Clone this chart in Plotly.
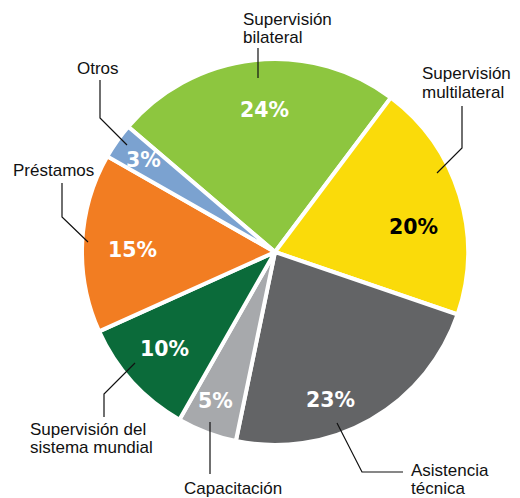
import math
import plotly.graph_objects as go

# Distribución por tipo de actividad (%)
categorias = [
    "Supervisión bilateral",
    "Supervisión multilateral",
    "Asistencia técnica",
    "Capacitación",
    "Supervisión del sistema mundial",
    "Préstamos",
    "Otros",
]
valores = [24, 20, 23, 5, 10, 15, 3]

colores = ["#8DC63F", "#FADB0A", "#636466", "#A7A9AC", "#0B6B3A", "#F27D22", "#7BA2D0"]
color_pct = ["white", "black", "white", "white", "white", "white", "white"]

W, H = 520, 498
CX, CY, R = 275, 252, 193          # centre and radius of the pie in pixels
ROTACION = -49.5                   # start of first slice, degrees clockwise from 12 o'clock

# radial position (fraction of radius) of each percentage label
radio_pct = [0.74, 0.73, 0.82, 0.83, 0.76, 0.74, 0.83]
desvio_pct = [2, 7, 9, 1, 1, -2, 0]   # angular nudge (deg)

# category labels: lines of text, x, first-line y, anchor
etiquetas = {
    "Supervisión bilateral": (["Supervisión", "bilateral"], 241, 19, "left"),
    "Supervisión multilateral": (["Supervisión", "multilateral"], 420, 74, "left"),
    "Asistencia técnica": (["Asistencia", "técnica"], 409, 470, "left"),
    "Capacitación": (["Capacitación"], 233, 488, "center"),
    "Supervisión del sistema mundial": (["Supervisión del", "sistema mundial"], 28, 429, "left"),
    "Préstamos": (["Préstamos"], 53, 170, "center"),
    "Otros": (["Otros"], 98, 68, "center"),
}
# leader lines (pixel polylines, label end first)
guias = {
    "Supervisión bilateral": [(258, 48), (258, 78)],
    "Supervisión multilateral": [(462, 106), (462, 148), (437, 173)],
    "Asistencia técnica": [(403, 472), (362, 472), (337, 423)],
    "Capacitación": [(210, 474), (210, 422)],
    "Supervisión del sistema mundial": [(104, 417), (104, 394), (135, 363)],
    "Préstamos": [(62, 183), (62, 217), (88, 242)],
    "Otros": [(100, 80), (100, 118), (127, 145)],
}
LINEA = 18.5


def px(x):
    return x / W


def py(y):
    return (H - y) / H


fig = go.Figure(
    go.Pie(
        labels=categorias,
        values=valores,
        sort=False,
        direction="clockwise",
        rotation=ROTACION,
        marker=dict(colors=colores, line=dict(color="white", width=4)),
        textinfo="none",
        hoverinfo="label+percent",
        showlegend=False,
        domain=dict(x=[px(CX - R), px(CX + R)], y=[py(CY + R), py(CY - R)]),
    )
)

anotaciones = []
total = sum(valores)
acum = 0.0
for i, (cat, v) in enumerate(zip(categorias, valores)):
    medio = ROTACION + (acum + v / 2) / total * 360 + desvio_pct[i]
    acum += v
    a = math.radians(medio)
    r = radio_pct[i] * R
    x = CX + r * math.sin(a)
    y = CY - r * math.cos(a)
    anotaciones.append(dict(
        x=px(x), y=py(y), xref="paper", yref="paper",
        text=f"{v}%", showarrow=False,
        font=dict(family="DejaVu Sans", size=20.5, color=color_pct[i], weight="bold"),
        xanchor="center", yanchor="middle",
    ))

for cat in categorias:
    lineas, x0, y0, anc = etiquetas[cat]
    for k, t in enumerate(lineas):
        anotaciones.append(dict(
            x=px(x0), y=py(y0 + k * LINEA), xref="paper", yref="paper",
            text=t, showarrow=False,
            font=dict(family="Liberation Sans, Arial", size=17, color="#111111"),
            xanchor=anc, yanchor="middle",
        ))

formas = []
for cat in categorias:
    pts = guias[cat]
    path = "M " + " L ".join(f"{px(x):.5f},{py(y):.5f}" for x, y in pts)
    formas.append(dict(type="path", path=path, xref="paper", yref="paper",
                       line=dict(color="#111111", width=1.2)))

fig.update_layout(
    width=W, height=H,
    margin=dict(l=0, r=0, t=0, b=0),
    paper_bgcolor="white",
    plot_bgcolor="white",
    annotations=anotaciones,
    shapes=formas,
)

fig.write_html("out.html")
